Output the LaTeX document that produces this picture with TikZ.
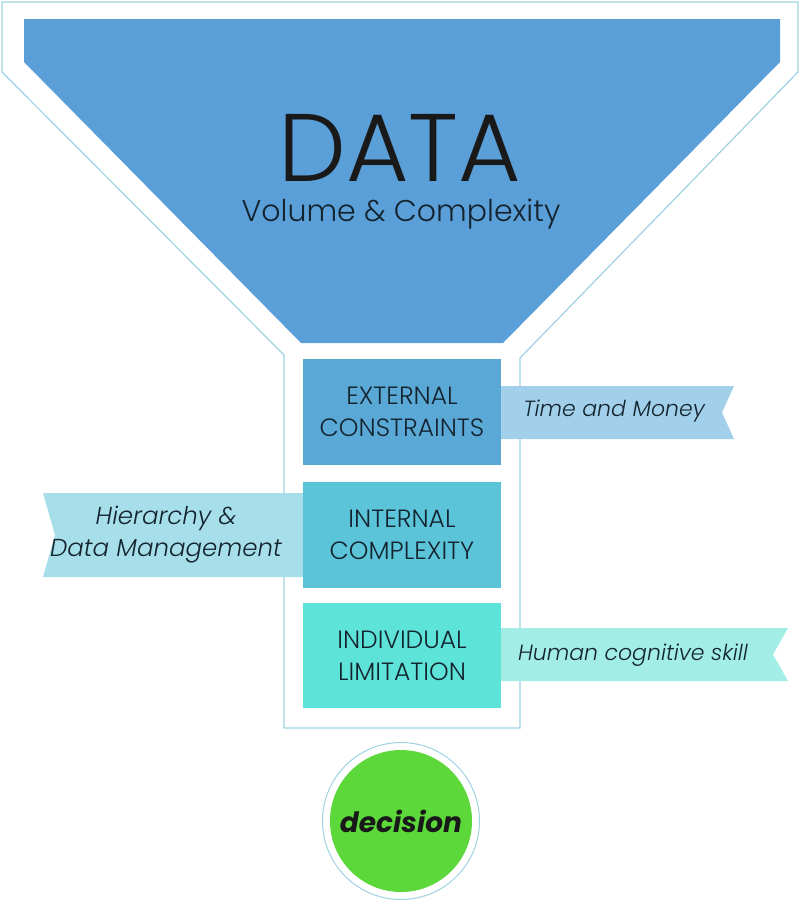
\documentclass[tikz,border=0pt]{standalone}
\usepackage{fontspec}
\setmainfont{Poppins}
\newfontfamily\thinfont{Poppins}[UprightFont=* Light, ItalicFont=* Light Italic]
\definecolor{outl}{HTML}{9FD3E3}
\definecolor{datablue}{HTML}{5B9FD8}
\definecolor{boxa}{HTML}{5AA8D6}
\definecolor{boxb}{HTML}{5CC4D9}
\definecolor{boxc}{HTML}{5EE3D8}
\definecolor{riba}{HTML}{A2CFE9}
\definecolor{ribb}{HTML}{A6DFE9}
\definecolor{ribc}{HTML}{A2EDE6}
\definecolor{txt}{HTML}{14242F}
\definecolor{green}{HTML}{5CD83A}
\tikzset{
  outline/.style={draw=outl, line width=1.2pt, line join=miter},
  stagebox/.style={minimum width=198pt, minimum height=106pt, inner sep=0pt, align=center, text=txt, font=\thinfont\fontsize{25}{32}\selectfont},
  ribtext/.style={inner sep=0pt, align=center, text=txt, font=\thinfont\itshape\fontsize{22}{32}\selectfont},
}
\begin{document}
\begin{tikzpicture}[x=1pt,y=-1pt]
\useasboundingbox (0,0) rectangle (800,902);
\fill[white] (0,0) rectangle (800,902);
% funnel outline
\draw[outline] (2,2) -- (798,2) -- (798,72) -- (520,358) -- (520,728) -- (284,728) -- (284,355) -- (2,72) -- cycle;
% data trapezoid
\fill[datablue] (24,19) -- (780,19) -- (780,62) -- (503,343) -- (301,343) -- (24,62) -- cycle;
\node[inner sep=0pt, text=black!90, font=\thinfont\fontsize{96}{96}\selectfont] (data) at (400,148) {DATA};
\node[inner sep=0pt, text=txt, anchor=base, font=\thinfont\fontsize{30}{30}\selectfont] (vol) at (401,221) {Volume \& Complexity};
% ribbons
\fill[riba] (495,386) -- (734,386) -- (722,412.5) -- (734,439) -- (495,439) -- cycle;
\fill[ribb] (43,493) -- (310,493) -- (310,577) -- (43,577) -- (55,535) -- cycle;
\fill[ribc] (495,628) -- (788,628) -- (773,654.5) -- (788,681) -- (495,681) -- cycle;
% boxes
\node[stagebox, fill=boxa] (ext) at (402,412) {EXTERNAL\\CONSTRAINTS};
\node[stagebox, fill=boxb] (int) at (402,535) {INTERNAL\\COMPLEXITY};
\node[stagebox, fill=boxc, minimum height=105pt] (ind) at (402,655.5) {INDIVIDUAL\\LIMITATION};
% ribbon texts
\node[ribtext] (tm) at (614,411) {Time and Money};
\node[ribtext, font=\thinfont\itshape\fontsize{24.5}{32}\selectfont] (hd) at (166,535) {Hierarchy \&\\Data Management};
\node[ribtext] (hc) at (633,655) {Human cognitive skill};
% decision
\draw[outl, line width=1pt] (401,821) circle (78.5);
\node[circle, fill=green, minimum size=142pt, inner sep=0pt, text=black!90, font=\bfseries\itshape\fontsize{28}{30}\selectfont] (dec) at (401,821) {decision};
\end{tikzpicture}
\end{document}
